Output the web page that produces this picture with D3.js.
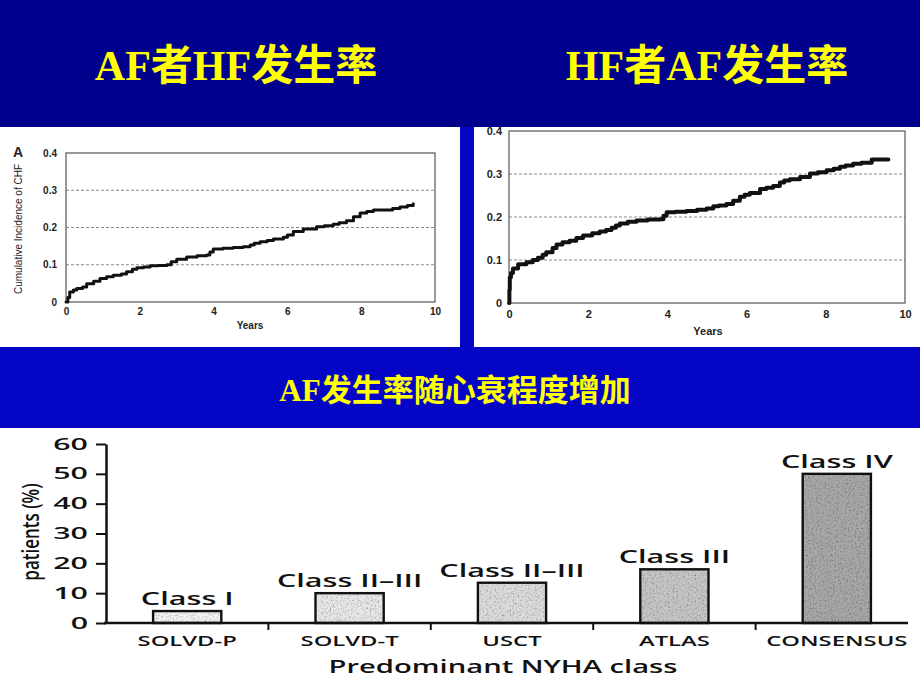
<!DOCTYPE html>
<html>
<head>
<meta charset="utf-8">
<script src="https://cdn.jsdelivr.net/npm/d3@7/dist/d3.min.js"></script>
<style>
  html, body { margin: 0; padding: 0; background: #ffffff; }
  svg { display: block; }
</style>
</head>
<body>
<script>
// ---------------- DATA ----------------
const titleLeft = "AF者HF发生率";
const titleRight = "HF者AF发生率";
const titleBand = "AF发生率随心衰程度增加";

// Panel A: cumulative incidence of CHF in AF patients
const leftYears = [0, 0.05, 0.1, 0.2, 0.29, 0.45, 0.56, 0.75, 0.92, 1.1, 1.28, 1.5, 1.64, 1.8, 1.92, 2.1, 2.28, 2.5, 2.73, 2.85, 3.0, 3.27, 3.55, 3.81, 3.9, 3.99, 4.25, 4.53, 4.8, 4.99, 5.1, 5.26, 5.45, 5.62, 5.89, 6.0, 6.16, 6.43, 6.79, 7.0, 7.24, 7.4, 7.6, 7.79, 7.97, 8.15, 8.33, 8.69, 8.85, 9.05, 9.25, 9.41];
const leftIncidence = [0, 0.012, 0.027, 0.032, 0.036, 0.04, 0.049, 0.056, 0.063, 0.068, 0.072, 0.075, 0.081, 0.088, 0.092, 0.094, 0.097, 0.098, 0.1, 0.108, 0.115, 0.121, 0.124, 0.126, 0.134, 0.142, 0.144, 0.146, 0.148, 0.153, 0.158, 0.162, 0.165, 0.169, 0.174, 0.18, 0.189, 0.196, 0.202, 0.205, 0.209, 0.213, 0.218, 0.229, 0.239, 0.243, 0.247, 0.247, 0.251, 0.255, 0.259, 0.264];

// Right panel: cumulative incidence of AF in HF patients
const rightYears = [0, 0.01, 0.02, 0.05, 0.1, 0.23, 0.44, 0.6, 0.73, 0.85, 0.94, 1.1, 1.2, 1.35, 1.53, 1.7, 1.87, 2.1, 2.29, 2.45, 2.59, 2.7, 2.8, 3.0, 3.22, 3.5, 3.81, 3.9, 3.98, 4.2, 4.48, 4.75, 4.99, 5.16, 5.3, 5.49, 5.66, 5.83, 5.95, 6.08, 6.34, 6.5, 6.67, 6.84, 6.95, 7.09, 7.35, 7.6, 7.8, 8.02, 8.2, 8.36, 8.5, 8.69, 8.9, 9.16, 9.58];
const rightIncidence = [0, 0.03, 0.06, 0.07, 0.08, 0.09, 0.095, 0.1, 0.105, 0.112, 0.118, 0.128, 0.136, 0.141, 0.145, 0.151, 0.157, 0.162, 0.166, 0.17, 0.175, 0.18, 0.185, 0.189, 0.192, 0.194, 0.195, 0.203, 0.211, 0.212, 0.214, 0.217, 0.22, 0.225, 0.227, 0.23, 0.238, 0.247, 0.252, 0.256, 0.265, 0.268, 0.272, 0.28, 0.285, 0.288, 0.293, 0.301, 0.304, 0.309, 0.312, 0.317, 0.32, 0.324, 0.326, 0.334, 0.334];

const incidenceTicks = [0, 0.1, 0.2, 0.3, 0.4];
const gridTicks = [0.1, 0.2, 0.3];
const yearTicks = [0, 2, 4, 6, 8, 10];

// Bar chart: AF prevalence by NYHA class
const trials = ["SOLVD-P", "SOLVD-T", "USCT", "ATLAS", "CONSENSUS"];
const afPercent = [4, 10, 13.5, 18, 50];
const nyhaClass = ["Class I", "Class II\u2013III", "Class II\u2013III", "Class III", "Class IV"];
const percentTicks = [0, 10, 20, 30, 40, 50, 60];

// ---------------- DRAW ----------------
const W = 920, H = 690;
const svg = d3.select("body").append("svg").attr("width", W).attr("height", H);

const defs = svg.append("defs");
const f = defs.append("filter").attr("id", "grain")
  .attr("x", 0).attr("y", 0).attr("width", "100%").attr("height", "100%");
f.append("feTurbulence").attr("type", "fractalNoise").attr("baseFrequency", 0.6)
  .attr("numOctaves", 3).attr("seed", 7).attr("result", "noise");
f.append("feColorMatrix").attr("in", "noise").attr("type", "saturate").attr("values", 0).attr("result", "gray");
const ct = f.append("feComponentTransfer").attr("in", "gray").attr("result", "soft");
["feFuncR", "feFuncG", "feFuncB"].forEach(n => ct.append(n).attr("type", "linear").attr("slope", 1.8).attr("intercept", 0.05));
ct.append("feFuncA").attr("type", "linear").attr("slope", 0).attr("intercept", 1);
f.append("feComposite").attr("in", "soft").attr("in2", "SourceGraphic").attr("operator", "in").attr("result", "clip");
f.append("feBlend").attr("in", "SourceGraphic").attr("in2", "clip").attr("mode", "multiply");

// slide backgrounds
svg.append("rect").attr("x", 0).attr("y", 0).attr("width", W).attr("height", 127).attr("fill", "#00008c");
svg.append("rect").attr("x", 0).attr("y", 127).attr("width", W).attr("height", 301).attr("fill", "#0505c6");
svg.append("rect").attr("x", 0).attr("y", 127).attr("width", 460).attr("height", 220).attr("fill", "#ffffff");
svg.append("rect").attr("x", 474).attr("y", 127).attr("width", 446).attr("height", 220).attr("fill", "#ffffff");
svg.append("rect").attr("x", 0).attr("y", 428).attr("width", W).attr("height", 262).attr("fill", "#ffffff");

// titles: Latin in bold serif, CJK in a medium-weight CJK face
function title(txt, x, y, size) {
  const t = svg.append("text").attr("x", x).attr("y", y).attr("text-anchor", "middle")
    .attr("font-size", size).attr("fill", "#ffff00");
  const parts = txt.match(/[A-Za-z]+|[^A-Za-z]+/g);
  parts.forEach(p => {
    const latin = /^[A-Za-z]+$/.test(p);
    t.append("tspan").text(p)
      .attr("font-family", latin ? "'Liberation Serif', serif" : "'Noto Sans CJK SC', sans-serif")
      .attr("font-weight", latin ? "bold" : "600");
  });
}
title(titleLeft, 236, 80, 42);
title(titleRight, 707, 80, 42);
title(titleBand, 455, 401, 31);

// ---------- Kaplan–Meier style panels ----------
function kmPanel(o) {
  const g = svg.append("g");
  const x = d3.scaleLinear().domain([0, 10]).range([o.x0, o.x1]);
  const y = d3.scaleLinear().domain([0, 0.4]).range([o.y0, o.y1]);

  g.selectAll("line.grid").data(gridTicks).join("line")
    .attr("x1", o.x0).attr("x2", o.x1).attr("y1", d => y(d)).attr("y2", d => y(d))
    .attr("stroke", "#8a8a8a").attr("stroke-width", 1).attr("stroke-dasharray", "3,2");

  g.append("rect").attr("x", o.x0).attr("y", o.y1).attr("width", o.x1 - o.x0).attr("height", o.y0 - o.y1)
    .attr("fill", "none").attr("stroke", "#555").attr("stroke-width", 1.2);

  const ya = g.append("g").attr("transform", `translate(${o.x0},0)`)
    .call(d3.axisLeft(y).tickValues(incidenceTicks).tickSize(0).tickPadding(o.yPad)
      .tickFormat(d => d === 0 ? "0" : d3.format(".1f")(d)));
  ya.select(".domain").remove();
  ya.selectAll("text").attr("font-family", "'Liberation Sans', Arial, sans-serif")
    .attr("font-weight", "bold").attr("font-size", o.fs).attr("fill", "#222");

  const xa = g.append("g").attr("transform", `translate(0,${o.y0})`)
    .call(d3.axisBottom(x).tickValues(yearTicks).tickSize(0).tickPadding(o.xPad).tickFormat(d3.format("d")));
  xa.select(".domain").remove();
  xa.selectAll("text").attr("font-family", "'Liberation Sans', Arial, sans-serif")
    .attr("font-weight", "bold").attr("font-size", o.fs).attr("fill", "#222");

  g.append("text").attr("x", o.yearsX).attr("y", o.yearsY).attr("text-anchor", "middle")
    .attr("font-family", "'Liberation Sans', Arial, sans-serif").attr("font-weight", "bold")
    .attr("font-size", o.fs).attr("fill", "#222").text("Years");

  const pts = o.xs.map((v, i) => [v, o.ys[i]]);
  const line = d3.line().x(d => x(d[0])).y(d => y(d[1])).curve(d3.curveStepAfter);
  g.append("path").datum(pts).attr("d", line).attr("fill", "none")
    .attr("stroke", "#111").attr("stroke-width", o.lw).attr("stroke-linejoin", "round").attr("stroke-linecap", "round");
  return g;
}

kmPanel({ x0: 66, x1: 435, y0: 302, y1: 153, yPad: 9, xPad: 6, fs: 10,
  yearsX: 250, yearsY: 329, xs: leftYears, ys: leftIncidence, lw: 3 });
kmPanel({ x0: 509, x1: 905, y0: 303, y1: 131, yPad: 7, xPad: 7, fs: 11,
  yearsX: 708, yearsY: 335, xs: rightYears, ys: rightIncidence, lw: 4 });

svg.append("text").attr("x", 13).attr("y", 157)
  .attr("font-family", "'Liberation Sans', Arial, sans-serif").attr("font-weight", "bold")
  .attr("font-size", 14).attr("fill", "#222").text("A");
svg.append("text").attr("transform", "translate(22,229) rotate(-90)").attr("text-anchor", "middle")
  .attr("font-family", "'Liberation Sans Narrow', 'Liberation Sans', Arial, sans-serif")
  .attr("font-size", 10).attr("fill", "#222").text("Cumulative Incidence of CHF");

// ---------- Bar chart ----------
const S = 1.7;
const barFont = "'Open Sans', 'DejaVu Sans', sans-serif";
const bx = d3.scaleBand().domain(trials).range([106, 918]).paddingInner(0.58).paddingOuter(0.29);
const by = d3.scaleLinear().domain([0, 60]).range([623, 444]);
const shade = d3.scaleOrdinal().domain(trials).range(["#f4f4f4", "#e8e8e8", "#dcdcdc", "#c6c6c6", "#a8a8a8"]);

const bg = svg.append("g");
bg.selectAll("rect.bar").data(trials).join("rect")
  .attr("x", d => bx(d)).attr("y", (d, i) => by(afPercent[i]))
  .attr("width", bx.bandwidth()).attr("height", (d, i) => by(0) - by(afPercent[i]))
  .attr("fill", d => shade(d)).attr("filter", "url(#grain)");
bg.selectAll("rect.barEdge").data(trials).join("rect")
  .attr("x", d => bx(d)).attr("y", (d, i) => by(afPercent[i]))
  .attr("width", bx.bandwidth()).attr("height", (d, i) => by(0) - by(afPercent[i]))
  .attr("fill", "none").attr("stroke", "#111").attr("stroke-width", 2.4);

bg.selectAll("text.cls").data(trials).join("text")
  .attr("transform", (d, i) => `translate(${bx(d) + bx.bandwidth() / 2},${by(afPercent[i]) - 6}) scale(${S},1)`)
  .attr("text-anchor", "middle").attr("font-family", barFont).attr("font-weight", 600)
  .attr("font-size", 18).attr("fill", "#111")
  .text((d, i) => nyhaClass[i]);

// y axis
const yAx = bg.append("g").attr("transform", "translate(106,0)")
  .call(d3.axisLeft(by).tickValues(percentTicks).tickSize(10).tickSizeOuter(0).tickFormat(d3.format("d")));
yAx.select(".domain").attr("stroke", "#111").attr("stroke-width", 2.5);
yAx.selectAll(".tick line").attr("stroke", "#111").attr("stroke-width", 2);
yAx.selectAll("text").attr("x", -18 / 1.9).attr("transform", `scale(1.9,1)`)
  .attr("font-family", barFont).attr("font-weight", 600).attr("font-size", 16).attr("fill", "#111");

// x axis
bg.append("line").attr("x1", 104).attr("x2", 908).attr("y1", by(0)).attr("y2", by(0))
  .attr("stroke", "#111").attr("stroke-width", 2.5);
const step = bx.step();
bg.selectAll("line.bound").data(trials.slice(0, -1)).join("line")
  .attr("x1", d => bx(d) + bx.bandwidth() + (step - bx.bandwidth()) / 2)
  .attr("x2", d => bx(d) + bx.bandwidth() + (step - bx.bandwidth()) / 2)
  .attr("y1", by(0)).attr("y2", by(0) + 7).attr("stroke", "#111").attr("stroke-width", 2);
bg.selectAll("text.trial").data(trials).join("text")
  .attr("transform", d => `translate(${bx(d) + bx.bandwidth() / 2},646) scale(${S},1)`)
  .attr("text-anchor", "middle").attr("font-family", barFont).attr("font-weight", 600)
  .attr("font-size", 14).attr("fill", "#111")
  .text(d => d);

bg.append("text").attr("transform", `translate(503,673) scale(1.62,1)`).attr("text-anchor", "middle")
  .attr("font-family", barFont).attr("font-weight", 600).attr("font-size", 18).attr("fill", "#111").text("Predominant NYHA class");
bg.append("text").attr("transform", "translate(39,532) scale(1.4,1) rotate(-90)").attr("text-anchor", "middle")
  .attr("font-family", barFont).attr("font-weight", 600).attr("font-size", 17).attr("fill", "#111").text("patients (%)");
</script>
</body>
</html>
